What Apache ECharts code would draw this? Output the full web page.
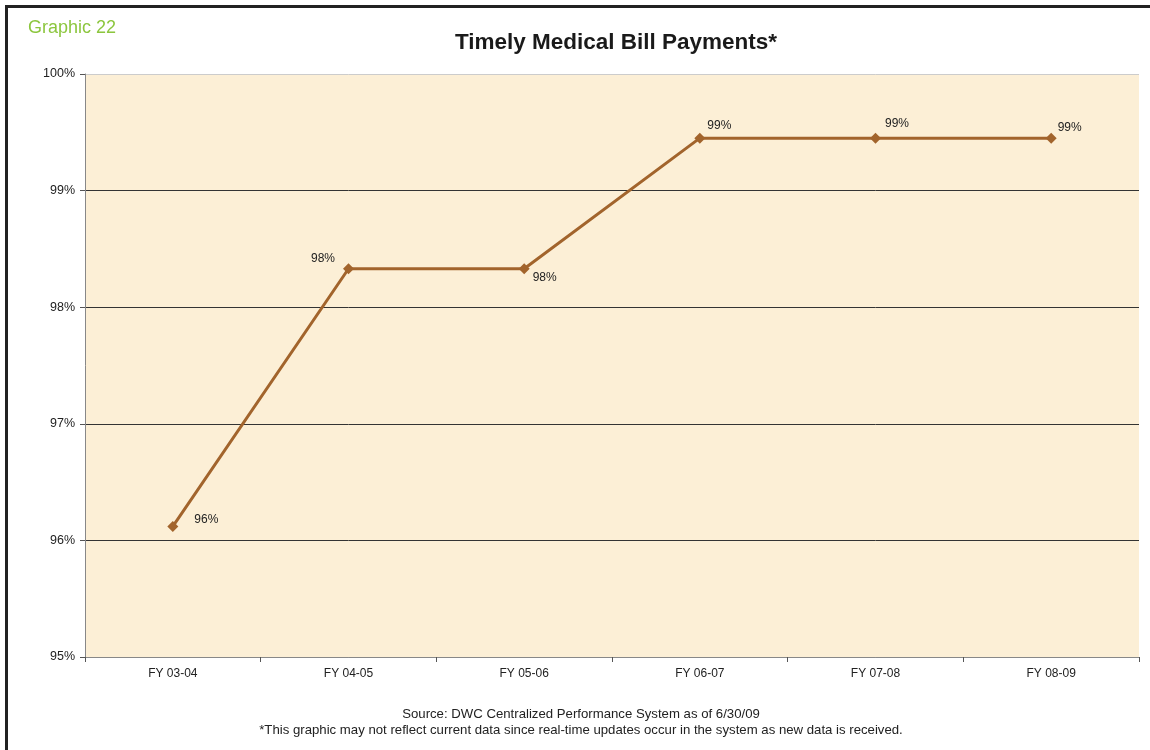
<!DOCTYPE html>
<html>
<head>
<meta charset="utf-8">
<script src="https://cdn.jsdelivr.net/npm/echarts@6/dist/echarts.min.js"></script>
<style>
html, body { margin: 0; padding: 0; background: #fff; }
#timely-chart { width: 1150px; height: 750px; }
</style>
</head>
<body>
<div id="timely-chart"></div>
<script>
// data
var fiscalYears = ['FY 03-04', 'FY 04-05', 'FY 05-06', 'FY 06-07', 'FY 07-08', 'FY 08-09'];
var timelyPct = [96.12, 98.33, 98.33, 99.45, 99.45, 99.45];
var yTicks = [95, 96, 97, 98, 99, 100];

// where each point label sits (right / left, offset)
var labelPlace = [
    { position: 'right', distance: 16, offset: [0, -7] },
    { position: 'left', distance: 8, offset: [0, -10] },
    { position: 'right', distance: 3, offset: [0, 9] },
    { position: 'right', distance: 2, offset: [0, -12] },
    { position: 'right', distance: 4, offset: [0, -14] },
    { position: 'right', distance: 1, offset: [0, -10] }
];

var fontFam = 'Liberation Sans, Arial, sans-serif';
var timelyChart = echarts.init(document.getElementById('timely-chart'));

function buildPoints() {
    var pts = [];
    for (var i = 0; i < timelyPct.length; i++) {
        pts.push({
            value: timelyPct[i],
            label: labelPlace[i]
        });
    }
    return pts;
}

timelyChart.setOption({
    backgroundColor: '#fff',
    textStyle: { fontFamily: fontFam },
    title: {
        text: 'Timely Medical Bill Payments*',
        left: 611,
        top: 26,
        textAlign: 'center',
        textStyle: { fontSize: 22.5, fontWeight: 'bold', color: '#1a1a1a' }
    },
    graphic: [
        { type: 'rect', shape: { x: 5, y: 5, width: 1145, height: 3 }, style: { fill: '#222' } },
        { type: 'rect', shape: { x: 5, y: 5, width: 3, height: 745 }, style: { fill: '#222' } },
        { type: 'text', x: 28, y: 28, style: { text: 'Graphic 22', fill: '#8cc63e', fontSize: 18, verticalAlign: 'middle', fontFamily: fontFam } },
        { type: 'text', x: 581, y: 714, style: { text: 'Source: DWC Centralized Performance System as of 6/30/09', fill: '#222', fontSize: 13.2, align: 'center', verticalAlign: 'middle', fontFamily: fontFam } },
        { type: 'text', x: 581, y: 730, style: { text: '*This graphic may not reflect current data since real-time updates occur in the system as new data is received.', fill: '#222', fontSize: 13.2, align: 'center', verticalAlign: 'middle', fontFamily: fontFam } }
    ],
    grid: {
        left: 85,
        right: 11,
        top: 74,
        bottom: 93,
        show: true,
        backgroundColor: '#fcefd6',
        borderWidth: 0
    },
    xAxis: {
        type: 'category',
        data: fiscalYears,
        boundaryGap: true,
        axisLine: { lineStyle: { color: '#888', width: 1 } },
        axisTick: { show: true, length: 5, lineStyle: { color: '#555' } },
        axisLabel: { color: '#222', fontSize: 12, margin: 11 }
    },
    yAxis: {
        type: 'value',
        min: yTicks[0],
        max: yTicks[yTicks.length - 1],
        interval: 1,
        axisLine: { show: true, lineStyle: { color: '#888', width: 1 } },
        axisTick: { show: true, length: 5, lineStyle: { color: '#555' } },
        axisLabel: { color: '#222', fontSize: 12.5, margin: 10, formatter: '{value}%' },
        splitLine: {
            show: true,
            lineStyle: { color: ['#888', '#333', '#333', '#333', '#333', '#ccc'], width: 1 }
        }
    },
    series: [{
        name: 'Timely',
        type: 'line',
        data: buildPoints(),
        symbol: 'diamond',
        symbolSize: 11,
        lineStyle: { color: '#a2642c', width: 3 },
        itemStyle: { color: '#a2642c' },
        label: {
            show: true,
            color: '#222',
            fontSize: 12,
            formatter: function(p) {
                return Math.round(p.value) + '%';
            }
        },
        animation: false
    }]
});
</script>
</body>
</html>
